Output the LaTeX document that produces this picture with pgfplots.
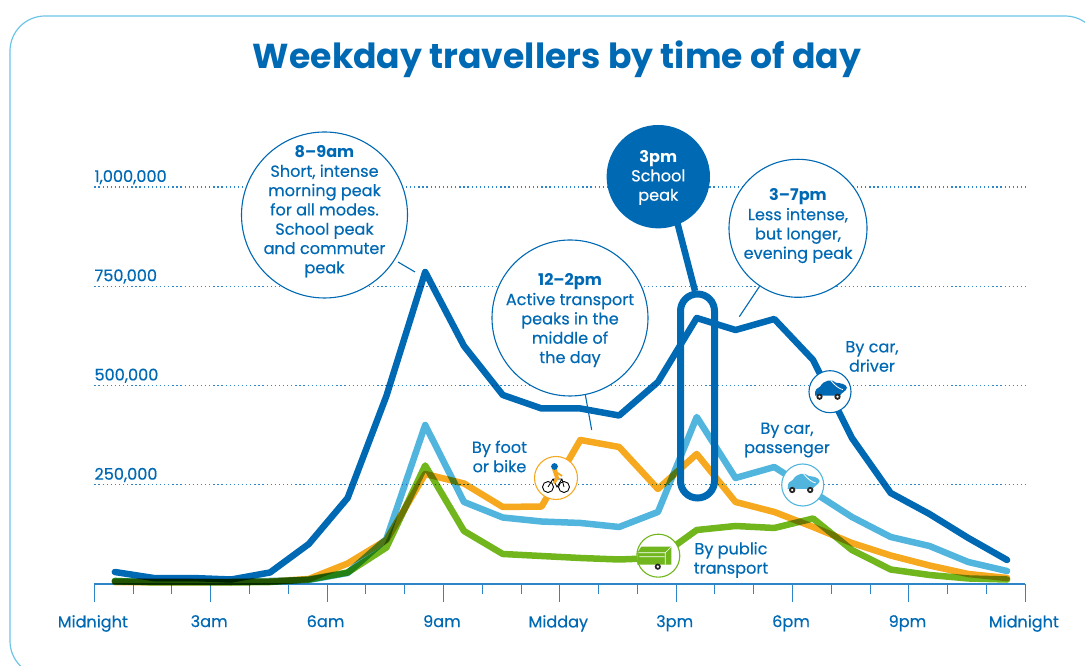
\documentclass[border=0pt]{standalone}
\usepackage{pgfplots}
\pgfplotsset{compat=1.18}
\usepackage{pgfplotstable}
\usepackage{fontspec}
\setmainfont{Poppins}[UprightFeatures={FakeBold=0.35}]
\definecolor{dk}{HTML}{0069B4}
\definecolor{lb}{HTML}{52B5DD}
\definecolor{og}{HTML}{F6A81F}
\definecolor{gn}{HTML}{70B61C}
\definecolor{frame}{HTML}{6CC5E6}
\definecolor{axisc}{HTML}{2E86C8}
\pgfplotstableread{
h driver passenger public foot
0.5 30200 7600 7600 5000
1.5 15100 6300 3800 5000
2.5 15100 6300 3800 5000
3.5 11300 5000 3800 5000
4.5 29000 7600 5000 6300
5.5 100800 10100 11300 12600
6.5 216600 27700 29000 51600
7.5 473600 113400 91900 110800
8.5 785900 400500 298500 277100
9.5 599500 206600 133500 253200
10.5 476100 167500 75600 194000
11.5 442100 157400 70500 195200
12.5 442100 153700 65500 362700
13.5 424400 143600 61700 345100
14.5 508800 181400 65500 239300
15.5 670000 420700 136000 327500
16.5 639800 267000 146100 206600
17.5 667500 294700 141100 181400
18.5 564200 231700 165000 143600
19.5 367800 168800 85600 103300
20.5 229200 118400 36500 71800
21.5 176300 95700 22700 46600
22.5 115900 55400 13900 25200
23.5 60500 32700 11300 15100
}\datatable
\newcommand{\fs}{\fontsize{16.1}{19.3}\selectfont}
\tikzset{
  lbl/.style={text=dk,align=center,inner sep=0pt,font=\fs},
  bub/.style={draw=dk,line width=1.1pt,fill=white},
  tail/.style={draw=dk,line width=1.1pt},
  ico/.style={fill=white,line width=1.1pt}
}
\newcommand{\car}[2]{%
  \fill[#1,shift={(#2)}] (-15,4) .. controls (-15.5,-2) and (-13,-4) .. (-10,-5)
    .. controls (-6,-12) and (2,-13) .. (6,-9) .. controls (10,-8.5) and (16,-8) .. (17,-4)
    .. controls (16,0) and (11,1) .. (10,4) -- cycle;
  \draw[white,line width=.8pt,shift={(#2)}] (1,-11) .. controls (5,-6) and (9,-3) .. (13,-2);
  \foreach \wx in {-10.5,7.5}{\draw[black!85,fill=white,line width=1.8pt,shift={(#2)}] (\wx,5) circle (2.2);}
}
\begin{document}
\begin{tikzpicture}[x=1pt,y=1pt]
\path[use as bounding box] (0,0) rectangle (1085,666);
\begin{scope}
\clip (0,0) rectangle (1085,666);
\draw[frame,line width=1.2pt,rounded corners=35pt] (10,-10) rectangle (1100,650);
\end{scope}
\node[text=dk,font=\fontsize{34.6}{40}\selectfont\bfseries,inner sep=0pt] at (557,607) {Weekday travellers by time of day};
\begin{axis}[
  at={(94.3pt,82pt)},anchor=south west,scale only axis,
  width=931pt,height=397pt,
  xmin=0,xmax=24,ymin=0,ymax=1000000,clip=false,
  axis x line*=bottom,axis y line*=left,
  y axis line style={draw=none},
  x axis line style={draw=axisc,line width=1.1pt,-},
  tick align=outside,
  xtick={0,3,...,24},
  minor xtick={1,2,4,5,7,8,10,11,13,14,16,17,19,20,22,23},
  xticklabels={Midnight,3am,6am,9am,Midday,3pm,6pm,9pm,Midnight},
  major tick length=18pt,minor tick length=10pt,
  x tick style={draw=axisc,line width=1pt},
  xticklabel style={text=dk,font=\fs,inner sep=0pt,yshift=-13pt,xshift=-1.5pt},
  ytick={250000,500000,750000,1000000},
  y tick style={draw=none},
  ymajorgrids,
  major grid style={draw=axisc,line width=1.3pt,dash pattern=on 1.3pt off 2.8pt},
  yticklabel style={anchor=south west,text=dk,font=\fs,inner sep=0pt,xshift=18pt,yshift=2.5pt,
    /pgf/number format/fixed,/pgf/number format/precision=0,
    /pgf/number format/assume math mode=true,/pgf/number format/1000 sep={,}},
  scaled y ticks=false,
  every axis plot/.style={line width=6.5pt,line cap=round,line join=round,no marks,blend mode=multiply},
]
\addplot[og] table[x expr=\thisrow{h}+0.03,y=foot]{\datatable};
\addplot[gn] table[x expr=\thisrow{h}+0.03,y=public]{\datatable};
\addplot[lb] table[x expr=\thisrow{h}+0.03,y=passenger]{\datatable};
\addplot[dk] table[x expr=\thisrow{h}+0.03,y=driver]{\datatable};
\end{axis}
\begin{scope}[y=-1pt,yshift=666pt]
% callout tails and bubbles
\draw[tail] (398,262) -- (415,272);
\draw[bub] (324.5,215) circle (83);
\node[lbl] at (324.5,211.5) {\textbf{8–9am}\\Short, intense\\morning peak\\for all modes.\\School peak\\and commuter\\peak};
\draw[tail] (585,393) -- (591.7,430);
\draw[bub] (570,318) circle (78);
\node[lbl] at (570,320.5) {\textbf{12–2pm}\\Active transport\\peaks in the\\middle of\\the day};
\draw[tail] (759.3,286.7) -- (739.3,316.7);
\draw[bub] (798,228.3) circle (69);
\node[lbl] at (798,226) {\textbf{3–7pm}\\Less intense,\\but longer,\\evening peak};
% school peak
\draw[dk,line width=6.5pt] (674,210) -- (695,291);
\fill[dk] (658.3,176.7) circle (51.7);
\node[lbl,text=white] at (658.3,177.5) {\textbf{3pm}\\School\\peak};
\draw[dk,line width=7pt,rounded corners=17pt] (680.5,294) rectangle (714.5,498);
% series labels
\node[lbl] at (499.5,456.5) {By foot\\or bike};
\node[lbl] at (872,356.5) {By car,\\driver};
\node[lbl] at (787,440) {By car,\\passenger};
\node[lbl] at (731,560) {By public\\transport};
% icons
\draw[ico,draw=og] (556,478) circle (21.5);
\begin{scope}[shift={(556,478)}]
\draw[black,line width=.9pt] (-8,9) circle (5.5) (8,9) circle (5.5);
\draw[black,line width=.8pt] (-8,9) -- (-3,1) -- (6,1) -- (8,9) (-3,1) -- (1,9) -- (6,1);
\fill[og] (-4,-9) -- (1,-9) -- (3,0) -- (-1,6) -- (-3,5) -- (-1,0) -- cycle;
\draw[og,line width=1.8pt] (0,-6) -- (6,-2);
\fill[dk] (-1.5,-11.5) circle (3.4);
\end{scope}
\draw[ico,draw=gn] (658.3,555.7) circle (21.5);
\begin{scope}[shift={(658.3,555.7)}]
\fill[gn] (-21,-3) -- (-17,-9) -- (13,-9) -- (13,9) -- (-21,9) -- cycle;
\draw[white,line width=.7pt] (-20,-3) -- (7,-3) -- (13,-9) (7,-3) -- (7,9) (-19,1) -- (6,1);
\draw[black!85,fill=white,line width=1.7pt] (-0.5,11) circle (2.2);
\end{scope}
\draw[ico,draw=lb] (802.7,485) circle (21);
\car{lb}{802.7,485}
\draw[ico,draw=dk] (830,391.7) circle (21);
\car{dk}{830,391.7}
\end{scope}
\end{tikzpicture}
\end{document}
